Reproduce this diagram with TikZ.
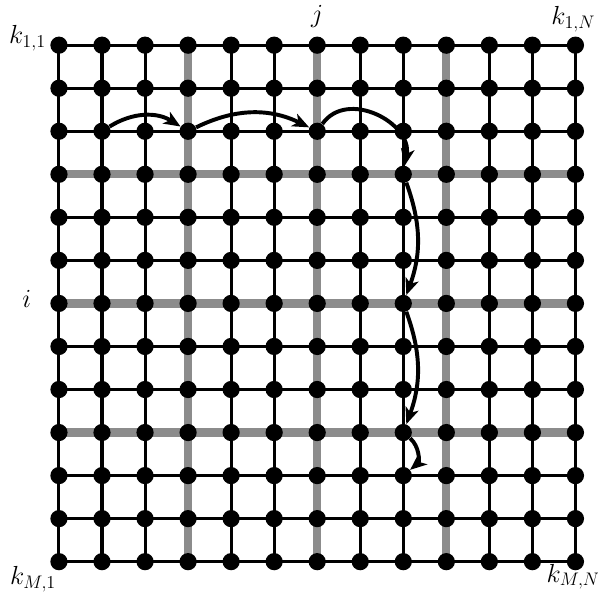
\documentclass[tikz,border=0pt]{standalone}
\usepackage{tikz}
\usetikzlibrary{arrows.meta}

\begin{document}
\begin{tikzpicture}[
  knot/.style={circle, fill=black, inner sep=0pt, minimum size=0.4cm},
  wire/.style={line width=2pt, black},
  bus/.style={line width=5.5pt, black!45},
  hop/.style={-{Stealth[length=11pt,width=9pt,inset=3pt]}, line width=2.6pt},
  lbl/.style={font=\LARGE}
]
  \useasboundingbox (-1.37,1.05) rectangle (12.52,-13.10);
  % grid points
  \foreach \r in {0,...,12}
    \foreach \c in {0,...,12}
      \coordinate (p-\r-\c) at (\c,-\r);
  \foreach \n in {0,...,12} {
    \draw[wire] (p-\n-0) -- (p-\n-12);
    \draw[wire] (p-0-\n) -- (p-12-\n);
  }
  \foreach \n in {3,6,9} {
    \draw[bus] (p-\n-0) -- (p-\n-12);
    \draw[bus] (p-0-\n) -- (p-12-\n);
  }
  \foreach \r in {0,...,12}
    \foreach \c in {0,...,12}
      \node[knot] (k-\r-\c) at (p-\r-\c) {};
  % path of hops
  \draw[hop] (k-2-1) to[bend left=32] (k-2-3);
  \draw[hop] (k-2-3) to[bend left=26] (k-2-6);
  \draw[hop] (k-2-6) to[out=55,in=80,looseness=1.2] (k-3-8);
  \draw[hop] (k-3-8) to[bend left=20] (k-6-8);
  \draw[hop] (k-6-8) to[bend left=20] (k-9-8);
  \draw[hop] (k-9-8) to[bend left=50] (k-10-8);
  % corner and index labels
  \node[lbl] (k11) at (-0.73,0.16) {$k_{1,1}$};
  \node[lbl] (k1n) at (11.95,0.6) {$k_{1,N}$};
  \node[lbl] (km1) at (-0.6,-12.4) {$k_{M,1}$};
  \node[lbl] (kmn) at (11.95,-12.35) {$k_{M,N}$};
  \node[lbl, anchor=base] (jj) at (6,0.52) {$j$};
  \node[lbl] (ii) at (-0.75,-5.9) {$i$};
\end{tikzpicture}
\end{document}
